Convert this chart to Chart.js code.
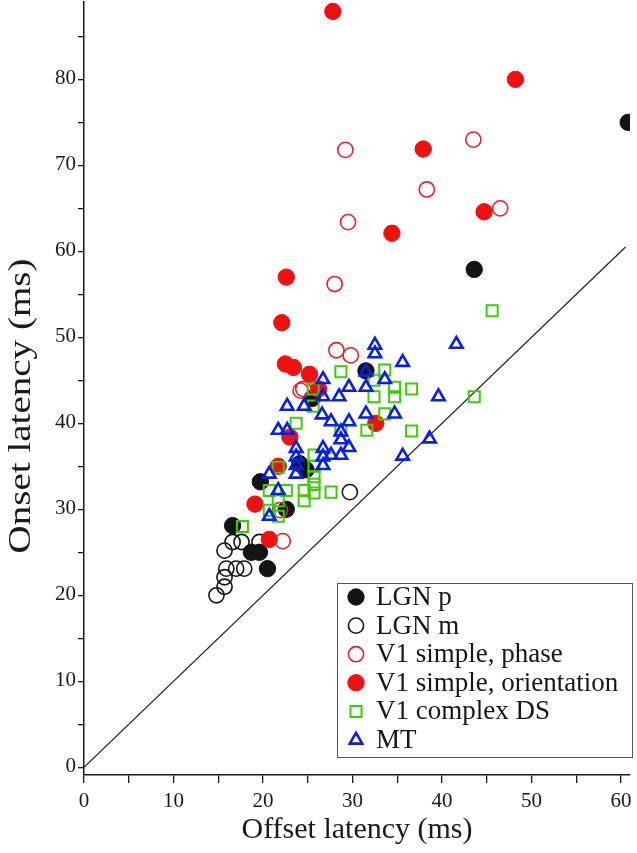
<!DOCTYPE html>
<html>
<head>
<meta charset="utf-8">
<script src="https://cdn.jsdelivr.net/npm/chart.js@4.4.1/dist/chart.umd.min.js"></script>
<style>
  html, body { margin: 0; padding: 0; background: #fff; }
  #wrap { position: relative; width: 637px; height: 853px; }
</style>
</head>
<body>
<div id="wrap"><canvas id="latencyChart"></canvas></div>
<script>
// Offset (x) / onset (y) latencies in ms
const lgnPX = [60.8, 43.6, 31.5, 25.5, 24.1, 24.8, 19.7, 22.6, 16.6, 18.7, 19.6, 20.5];
const lgnPY = [75.0, 57.9, 46.1, 42.9, 35.3, 34.6, 33.2, 30.0, 28.1, 25.0, 25.0, 23.1];

const lgnMX = [14.8, 15.7, 15.7, 15.9, 17.0, 17.9, 15.7, 16.6, 17.6, 19.6, 29.7];
const lgnMY = [20.0, 21.0, 22.1, 23.1, 23.1, 23.1, 25.2, 26.2, 26.2, 26.2, 32.0];

const phaseX = [29.2, 43.5, 38.3, 46.5, 29.5, 28.0, 28.2, 29.8, 24.5, 24.2, 21.9, 22.2];
const phaseY = [71.8, 73.0, 67.2, 65.0, 63.4, 56.2, 48.5, 47.9, 44.0, 43.8, 29.9, 26.3];

const orientX = [27.8, 48.2, 37.9, 44.7, 34.4, 22.6, 22.1, 22.5, 23.4, 25.2, 26.2, 32.6, 23.0, 21.7, 19.1, 20.7];
const orientY = [87.9, 80.0, 71.9, 64.6, 62.1, 57.0, 51.7, 46.9, 46.5, 45.7, 44.0, 40.0, 38.4, 35.0, 30.6, 26.5];

const complexX = [45.6, 28.7, 32.4, 33.6, 34.7, 36.6, 25.6, 32.4, 34.7, 43.6, 25.6, 23.7, 28.7, 31.6, 33.6, 36.6,
  25.7, 25.7, 25.7, 25.7, 25.7, 27.6, 21.7, 20.7, 22.6, 24.6, 24.6, 21.7, 20.7, 21.7, 17.7];
const complexY = [53.1, 46.0, 45.0, 46.2, 44.2, 44.0, 44.0, 43.1, 43.1, 43.1, 42.0, 40.0, 39.2, 39.2, 41.1, 39.1,
  36.3, 35.0, 33.8, 32.9, 31.9, 32.0, 34.9, 32.2, 32.2, 32.2, 31.0, 31.0, 29.9, 29.2, 28.0];

const mtX = [32.5, 32.5, 41.6, 35.6, 31.5, 26.7, 33.6, 26.7, 29.6, 28.5, 31.5, 22.7, 24.6, 26.6, 27.6, 29.6,
  31.5, 34.7, 39.6, 21.7, 22.7, 28.7, 28.7, 38.6, 23.7, 23.7, 23.7, 23.7, 26.7, 26.7, 26.7, 29.6, 27.6, 28.7,
  35.6, 20.7, 21.7, 20.7];
const mtY = [49.1, 48.1, 49.2, 47.1, 46.0, 45.1, 45.1, 43.1, 44.2, 43.1, 44.2, 42.0, 42.0, 41.0, 40.2, 40.2,
  41.1, 41.1, 43.1, 39.2, 39.2, 39.0, 38.1, 38.2, 37.1, 36.1, 35.1, 34.1, 37.1, 36.1, 35.1, 37.2, 36.3, 36.3,
  36.2, 34.1, 32.2, 29.2];

// unity line (onset = offset)
const unityX = [0, 60.5];
const unityY = [0, 60.5];

const xTickValues = [0, 5, 10, 15, 20, 25, 30, 35, 40, 45, 50, 55, 60];
const yTickValues = [0, 5, 10, 15, 20, 25, 30, 35, 40, 45, 50, 55, 60, 65, 70, 75, 80, 85];

const yTitle = 'Onset latency (ms)';
const SERIF = "'Liberation Serif', 'DejaVu Serif', serif";

function toPoints(xs, ys) {
  return xs.map((x, i) => ({ x, y: ys[i] }));
}

function scatterSet(label, xs, ys, style, order) {
  return Object.assign({
    type: 'scatter',
    label,
    data: toPoints(xs, ys),
    order,
    showLine: false,
  }, style);
}

const datasets = [
  scatterSet('LGN p', lgnPX, lgnPY, {
    pointStyle: 'circle', pointRadius: 8.2,
    pointBackgroundColor: '#141414', pointBorderColor: '#141414', pointBorderWidth: 1,
  }, 5),
  scatterSet('LGN m', lgnMX, lgnMY, {
    pointStyle: 'circle', pointRadius: 7.6,
    pointBackgroundColor: 'rgba(255,255,255,0)', pointBorderColor: '#141414', pointBorderWidth: 1.6,
  }, 4),
  scatterSet('V1 simple, phase', phaseX, phaseY, {
    pointStyle: 'circle', pointRadius: 7.6,
    pointBackgroundColor: 'rgba(255,255,255,0)', pointBorderColor: '#e8202a', pointBorderWidth: 1.6,
  }, 2),
  scatterSet('V1 simple, orientation', orientX, orientY, {
    pointStyle: 'circle', pointRadius: 8.2,
    pointBackgroundColor: '#ee1111', pointBorderColor: '#ee1111', pointBorderWidth: 1,
  }, 3),
  scatterSet('V1 complex DS', complexX, complexY, {
    pointStyle: 'rect', pointRadius: 7.8,
    pointBackgroundColor: 'rgba(255,255,255,0)', pointBorderColor: '#3ccc08', pointBorderWidth: 2,
  }, 1),
  scatterSet('MT', mtX, mtY, {
    pointStyle: 'triangle', pointRadius: 7.2,
    pointBackgroundColor: 'rgba(255,255,255,0)', pointBorderColor: '#0a1ee6', pointBorderWidth: 2.6,
  }, 0),
  {
    type: 'line',
    label: 'unity',
    data: toPoints(unityX, unityY),
    borderColor: '#222',
    borderWidth: 1.2,
    pointRadius: 0,
    fill: false,
    order: 10,
    hideInLegend: true,
  },
];

/**
 * Boxed legend drawn inside the plot, lower right
 */
const boxLegend = {
  id: 'boxLegend',
  afterDraw(chart) {
    const ctx = chart.ctx;
    const box = { left: 337, top: 583, right: 632, bottom: 757 };
    const rowTop = 597;
    const rowStep = 28.6;

    ctx.save();
    ctx.fillStyle = '#fff';
    ctx.strokeStyle = '#555';
    ctx.lineWidth = 1;
    ctx.fillRect(box.left, box.top, box.right - box.left, box.bottom - box.top);
    ctx.strokeRect(box.left + 0.5, box.top + 0.5, box.right - box.left, box.bottom - box.top);

    ctx.font = '27px ' + SERIF;
    ctx.textBaseline = 'middle';
    ctx.textAlign = 'left';

    chart.data.datasets
      .filter((ds) => !ds.hideInLegend)
      .forEach((ds, i) => {
        const y = rowTop + i * rowStep;
        drawMarker(ctx, ds, 356, y);
        ctx.fillStyle = '#161616';
        ctx.fillText(ds.label, 376, y + 1);
      });
    ctx.restore();
  },
};

/**
 * Y axis title, stretched along its length like the scanned figure
 */
const stretchedYTitle = {
  id: 'stretchedYTitle',
  afterDraw(chart) {
    const ctx = chart.ctx;
    ctx.save();
    ctx.translate(22, 406);
    ctx.rotate(-Math.PI / 2);
    ctx.scale(1.26, 1);
    ctx.font = '31px ' + SERIF;
    ctx.fillStyle = '#1a1a1a';
    ctx.textAlign = 'center';
    ctx.textBaseline = 'middle';
    ctx.fillText(yTitle, 0, 0);
    ctx.restore();
  },
};

function drawMarker(ctx, ds, x, y) {
  const r = ds.pointRadius;
  ctx.save();
  ctx.lineWidth = ds.pointBorderWidth;
  ctx.strokeStyle = ds.pointBorderColor;
  ctx.fillStyle = ds.pointBackgroundColor;
  ctx.beginPath();
  if (ds.pointStyle === 'rect') {
    const s = r * Math.SQRT1_2;
    ctx.rect(x - s, y - s, 2 * s, 2 * s);
  } else if (ds.pointStyle === 'triangle') {
    for (let k = 0; k < 3; k++) {
      const a = k * 2 * Math.PI / 3;
      const px = x + Math.sin(a) * r;
      const py = y - Math.cos(a) * r;
      if (k === 0) ctx.moveTo(px, py); else ctx.lineTo(px, py);
    }
    ctx.closePath();
  } else {
    ctx.arc(x, y, r, 0, 2 * Math.PI);
  }
  ctx.fill();
  ctx.stroke();
  ctx.restore();
}

const ctx = document.getElementById('latencyChart').getContext('2d');

new Chart(ctx, {
  type: 'scatter',
  data: { datasets },
  plugins: [boxLegend, stretchedYTitle],
  options: {
    responsive: true,
    maintainAspectRatio: false,
    animation: false,
    events: [],
    layout: { autoPadding: false, padding: { top: 2, right: 7, left: 0, bottom: 0 } },
    plugins: {
      legend: { display: false },
      tooltip: { enabled: false },
    },
    scales: {
      x: {
        type: 'linear',
        min: 0,
        max: 61,
        afterFit: (scale) => {
          scale.height = 78;
          scale.paddingLeft = 0;
          scale.paddingRight = 0;
        },
        afterBuildTicks: (scale) => { scale.ticks = xTickValues.map((v) => ({ value: v })); },
        border: { display: true, color: '#1a1a1a', width: 1.5 },
        grid: { drawOnChartArea: false, drawTicks: true, tickLength: 8, color: '#1a1a1a', lineWidth: 1.3 },
        ticks: {
          autoSkip: false,
          maxRotation: 0,
          padding: 6,
          color: '#1a1a1a',
          font: { family: SERIF, size: 21 },
          callback: (v) => (v % 10 === 0 ? v : ''),
        },
        title: {
          display: true,
          text: 'Offset latency (ms)',
          color: '#1a1a1a',
          font: { family: SERIF, size: 30 },
          padding: { top: 0, bottom: 5 },
        },
      },
      y: {
        type: 'linear',
        min: -0.9,
        max: 89,
        afterFit: (scale) => {
          scale.width = 84;
          scale.paddingTop = 0;
          scale.paddingBottom = 0;
        },
        afterBuildTicks: (scale) => { scale.ticks = yTickValues.map((v) => ({ value: v })); },
        border: { display: true, color: '#1a1a1a', width: 1.5 },
        grid: { drawOnChartArea: false, drawTicks: true, tickLength: 6, color: '#1a1a1a', lineWidth: 1.3 },
        ticks: {
          autoSkip: false,
          padding: 2,
          labelOffset: -1,
          color: '#1a1a1a',
          font: { family: SERIF, size: 21 },
          callback: (v) => (v % 10 === 0 ? v : ''),
        },
      },
    },
  },
});
</script>
</body>
</html>
